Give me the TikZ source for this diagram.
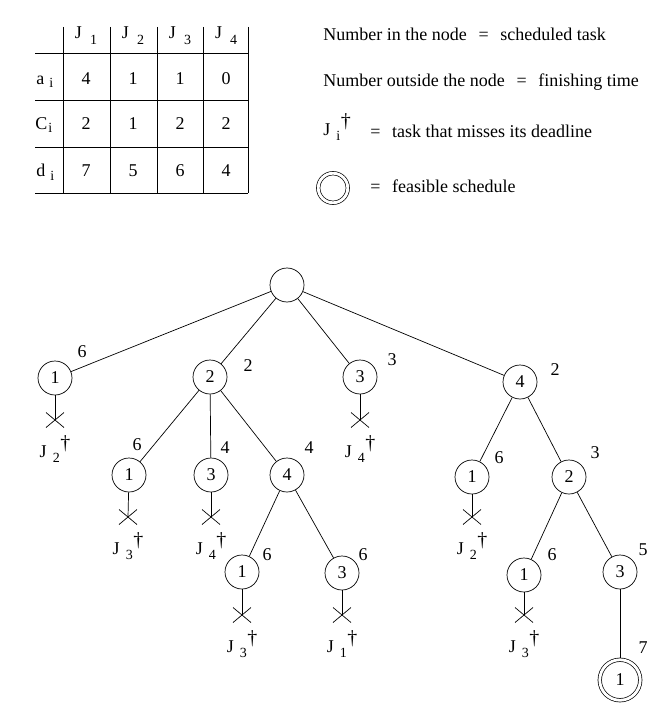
\documentclass[tikz,border=0pt]{standalone}
\usepackage{fontspec}
\setmainfont{Liberation Serif}
\usetikzlibrary{calc}
\newcommand{\smallsz}{\fontsize{14}{14}\selectfont}
\newcommand{\Jmiss}[1]{J\kern6pt\raisebox{-5pt}{\smallsz #1}\kern0.5pt\raisebox{8pt}{\fontsize{20}{20}\selectfont †}}
\newcommand{\Jcol}[1]{J\kern8pt\raisebox{-6pt}{\smallsz #1}}
\newcommand{\rowlbl}[2]{#1\kern#2\raisebox{-3pt}{\smallsz i}}

\begin{document}
\begin{tikzpicture}[
  x=1pt, y=-1pt, line width=0.7pt,
  font=\fontsize{18}{21}\selectfont,
  task/.style={draw, circle, minimum size=34pt, inner sep=0pt},
  done/.style={draw, circle, double, double distance=2.8pt, minimum size=40.5pt, inner sep=0pt, outer sep=2pt},
  time/.style={inner sep=0pt},
  miss/.style={inner sep=0pt, anchor=base},
  txt/.style={inner sep=0pt, anchor=base west},
  cross/.pic={\draw (-9,-7.5) -- (9,7.5) (-9,7.5) -- (9,-7.5);}
]
\useasboundingbox (0,0) rectangle (668,722);

% table of tasks
\foreach \x in {63,110,157,203,248} \draw (\x,27) -- (\x,193);
\foreach \y in {53,100,147,193} \draw (35,\y) -- (248,\y);
\foreach \cx [count=\j] in {86,133,180,226}
  \node[miss] (head\j) at (\cx,39) {\Jcol{\j}};
\node[txt] (lbl-a) at (36,85) {\rowlbl{a}{5pt}};
\node[txt] (lbl-c) at (35,130) {\rowlbl{C}{1pt}};
\node[txt] (lbl-d) at (36,177) {\rowlbl{d}{5pt}};
\foreach \cx/\v [count=\j] in {86/4,133/1,180/1,226/0}
  \node[miss] (arr\j) at (\cx,85) {\v};
\foreach \cx/\v [count=\j] in {86/2,133/1,180/2,226/2}
  \node[miss] (comp\j) at (\cx,130) {\v};
\foreach \cx/\v [count=\j] in {86/7,133/5,180/6,226/4}
  \node[miss] (dl\j) at (\cx,177) {\v};

% legend
\node[txt] (leg1) at (323,41) {Number in the node\hspace{0.65em}=\hspace{0.65em}scheduled task};
\node[txt] (leg2) at (323,87) {Number outside the node\hspace{0.65em}=\hspace{0.65em}finishing time};
\node[txt] (leg3j) at (323,136) {\Jmiss{i}};
\node[txt] (leg3) at (370,138) {=\hspace{0.65em}task that misses its deadline};
\node[done, minimum size=29.5pt] (leg4c) at (333,188) {};
\node[txt] (leg4) at (370,193) {=\hspace{0.65em}feasible schedule};

% search tree
\node[task] (root) at (287,285) {};
\node[task] (a1) at (55,378) {1};
\node[task] (a2) at (210,377) {2};
\node[task] (a3) at (360,377) {3};
\node[task] (a4) at (520,382) {4};
\node[task] (b1) at (129,475) {1};
\node[task] (b3) at (211,475) {3};
\node[task] (b4) at (287,475) {4};
\node[task] (c1) at (242,572) {1};
\node[task] (c3) at (342,573) {3};
\node[task] (d1) at (472,477) {1};
\node[task] (d2) at (569,477) {2};
\node[task] (e1) at (524,575) {1};
\node[task] (e3) at (620,572) {3};
\node[done] (fin) at (620,680) {1};

\foreach \p/\c in {root/a1,root/a2,root/a3,root/a4,a2/b1,a2/b3,a2/b4,
                   b4/c1,b4/c3,a4/d1,a4/d2,d2/e1,d2/e3,e3/fin}
  \draw (\p) -- (\c);

% finishing times
\node[time] (ta1) at (82,352) {6};
\node[time] (ta2) at (248,366) {2};
\node[time] (ta3) at (392,360) {3};
\node[time] (ta4) at (555,370) {2};
\node[time] (tb1) at (137,445) {6};
\node[time] (tb3) at (225,448) {4};
\node[time] (tb4) at (309,448) {4};
\node[time] (tc1) at (267,555) {6};
\node[time] (tc3) at (363,555) {6};
\node[time] (td1) at (499,458) {6};
\node[time] (td2) at (595,453) {3};
\node[time] (te1) at (552,555) {6};
\node[time] (te3) at (643,550) {5};
\node[time] (tfin) at (643,648) {7};

% deadline misses
\foreach \n/\cx/\cy/\j in {a1/55/420/2, a3/360/420/4, b1/128/517/3, b3/211/517/4,
                           c1/242/615/3, c3/342/615/1, d1/472/517/2, e1/524/615/3} {
  \coordinate (x\n) at (\cx,\cy);
  \draw (\n) -- (x\n) pic {cross};
  \node[miss] (j\n) at (\cx,\cy+37) {\Jmiss{\j}};
}
\end{tikzpicture}
\end{document}
